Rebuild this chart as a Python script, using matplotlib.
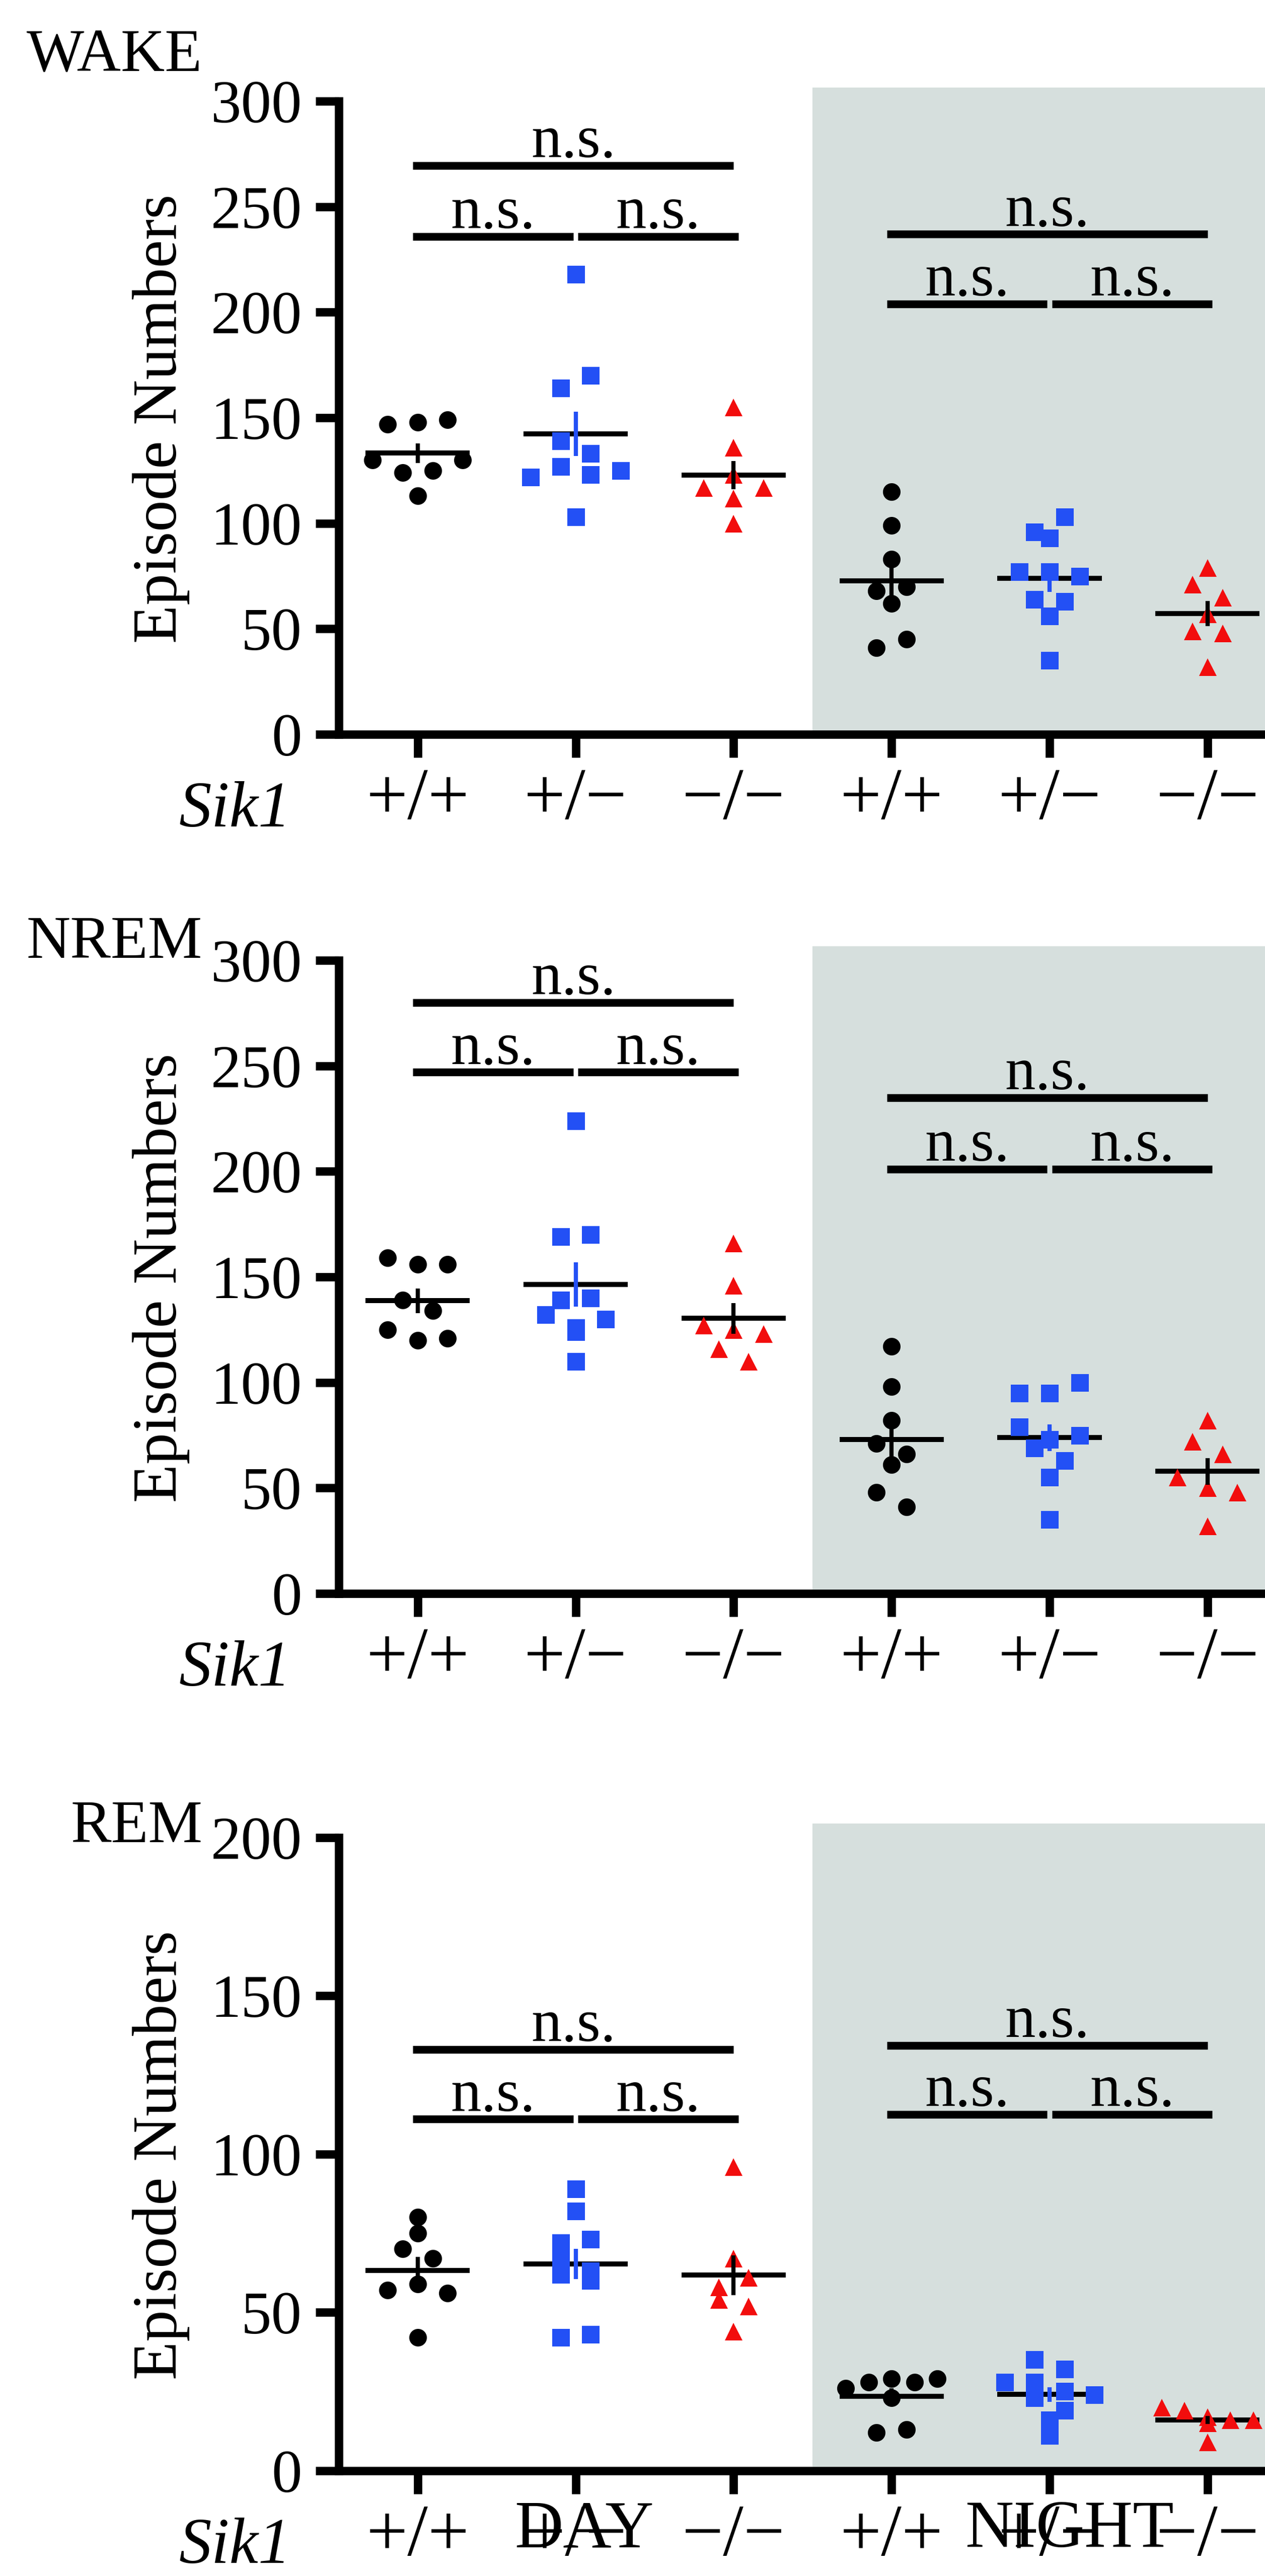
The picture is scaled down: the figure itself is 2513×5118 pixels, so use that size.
import matplotlib.pyplot as plt
import numpy as np

plt.rcParams['font.family'] = ['Liberation Serif', 'DejaVu Serif']

# episode counts per animal, columns: +/+, +/-, -/- (day) then +/+, +/-, -/- (night)
wake_day_wt = [147, 148, 149, 130, 124, 125, 130, 113]
wake_day_het = [218, 164, 170, 139, 122, 127, 123, 133, 125, 103]
wake_day_ko = [155, 136, 117, 123, 117, 112, 100]
wake_night_wt = [115, 99, 83, 68, 70, 62, 41, 45]
wake_night_het = [96, 103, 93, 77, 77, 75, 64, 63, 56, 35]
wake_night_ko = [79, 71, 65, 57, 49, 48, 32]

nrem_day_wt = [159, 156, 156, 139, 134, 125, 120, 121]
nrem_day_het = [224, 169, 170, 139, 140, 132, 126, 130, 124, 110]
nrem_day_ko = [166, 146, 127, 125, 123, 116, 110]
nrem_night_wt = [117, 98, 82, 71, 66, 61, 48, 41]
nrem_night_het = [95, 95, 100, 79, 73, 75, 69, 63, 55, 35]
nrem_night_ko = [82, 72, 66, 55, 50, 48, 32]

rem_day_wt = [80, 75, 70, 67, 57, 59, 56, 42]
rem_day_het = [89, 82, 72, 73, 67, 62, 60, 63, 42, 43]
rem_day_ko = [96, 67, 58, 61, 54, 52, 44]
rem_night_wt = [26, 28, 29, 28, 29, 23, 12, 13]
rem_night_het = [35, 32, 28, 28, 25, 24, 23, 19, 16, 11]
rem_night_ko = [20, 19, 17, 16, 16, 15, 9]

genotypes = ['+/+', '+/\u2212', '\u2212/\u2212'] * 2

# comparison bars: (from column, to column, height)
wake_bars = [(0, 2, 269.5), (0, 1, 236), (1, 2, 236), (3, 5, 237), (3, 4, 204), (4, 5, 204)]
nrem_bars = [(0, 2, 280), (0, 1, 247), (1, 2, 247), (3, 5, 235), (3, 4, 201), (4, 5, 201)]
rem_bars = [(0, 2, 133), (0, 1, 111), (1, 2, 111), (3, 5, 134.3), (3, 4, 112.5), (4, 5, 112.5)]

colors = ['#000000', '#2350f5', '#f20d0d']
markers = ['o', 's', '^']
shade = '#d6dfdd'


def swarm(vals, thr, step=0.19, maxw=0.58):
    # stack close values side by side like a column scatter
    order = sorted(range(len(vals)), key=lambda k: -vals[k])
    rows = []
    for k in order:
        if rows and vals[rows[-1][0]] - vals[k] < thr:
            rows[-1].append(k)
        else:
            rows.append([k])
    offs = np.zeros(len(vals))
    for row in rows:
        row.sort()
        n = len(row)
        st = step if n < 4 else min(step, maxw / (n - 1))
        for i, k in enumerate(row):
            offs[k] = (i - (n - 1) / 2) * st
    return offs


panels = [
    ('WAKE', 300, [wake_day_wt, wake_day_het, wake_day_ko, wake_night_wt, wake_night_het, wake_night_ko],
     wake_bars, 0.7149, 1 - 141 / 5118),
    ('NREM', 300, [nrem_day_wt, nrem_day_het, nrem_day_ko, nrem_night_wt, nrem_night_het, nrem_night_ko],
     nrem_bars, 0.3814, 1 - 1903 / 5118),
    ('REM', 200, [rem_day_wt, rem_day_het, rem_day_ko, rem_night_wt, rem_night_het, rem_night_ko],
     rem_bars, 0.04091, 1 - 3660 / 5118),
]

fig = plt.figure(figsize=(2513 / 300, 5118 / 300), dpi=300)

for name, ymax, data, bars, bottom, title_y in panels:
    ax = fig.add_axes([0.2678, bottom, 0.7492, 0.2512])
    ax.axvspan(2.5, 5.5, facecolor=shade, lw=0, zorder=0)

    for g, vals in enumerate(data):
        vals = np.array(vals, dtype=float)
        offs = swarm(vals, 0.024 * ymax)
        c = colors[g % 3]
        ax.plot(g + offs, vals, ls='none', marker=markers[g % 3], ms=8.4, mew=0,
                color=c, zorder=4, clip_on=False)
        m = vals.mean()
        sem = vals.std(ddof=1) / np.sqrt(len(vals))
        ax.hlines(m, g - 0.33, g + 0.33, color='k', lw=2.4, zorder=3)
        ax.vlines(g, m - sem, m + sem, color=c if g % 3 == 1 else 'k', lw=2.0, zorder=5)

    # n.s. brackets
    for i, j, h in bars:
        x1 = i - 0.03 if i % 3 != 1 else i + 0.015
        x2 = j + 0.03 if j % 3 != 1 else j - 0.015
        if j - i == 2:
            x2 = j
        ax.plot([x1, x2], [h, h], color='k', lw=3.7, solid_capstyle='butt', zorder=6)
        ax.annotate('n.s.', xy=((x1 + x2) / 2, h), xytext=(0, 4), textcoords='offset points',
                    ha='center', va='baseline', fontsize=29)

    ax.set_xlim(-0.5, 5.5)
    ax.set_ylim(0, ymax * 1.022)
    ax.set_yticks(np.arange(0, ymax + 1, 50))
    ax.set_xticks(range(6))
    ax.set_xticklabels(genotypes, fontsize=35)
    ax.tick_params(axis='both', direction='out', length=11, width=4, color='k')
    ax.tick_params(axis='x', pad=5)
    ax.tick_params(axis='y', labelsize=29, pad=6.5)
    for s in ['top', 'right']:
        ax.spines[s].set_visible(False)
    for s in ['left', 'bottom']:
        ax.spines[s].set_linewidth(4)
    ax.spines['left'].set_bounds(0, ymax)

    ax.set_ylabel('Episode Numbers', fontsize=30)
    ax.yaxis.set_label_coords(-0.157, 0.4876)

    ax.annotate('Sik1', xy=(0, 0), xycoords='axes fraction', xytext=(-22.8, -44),
                textcoords='offset points', ha='right', va='baseline', fontsize=31, style='italic')
    fig.text(0.16, title_y, name, ha='right', va='baseline', fontsize=29)

    if name == 'REM':
        ax.annotate('DAY', xy=(1.055, 0.0113), xycoords=('data', 'figure fraction'),
                    ha='center', va='baseline', fontsize=32, annotation_clip=False)
        ax.annotate('NIGHT', xy=(4.127, 0.0113), xycoords=('data', 'figure fraction'),
                    ha='center', va='baseline', fontsize=32, annotation_clip=False)

fig.savefig('out.png', dpi=300)
